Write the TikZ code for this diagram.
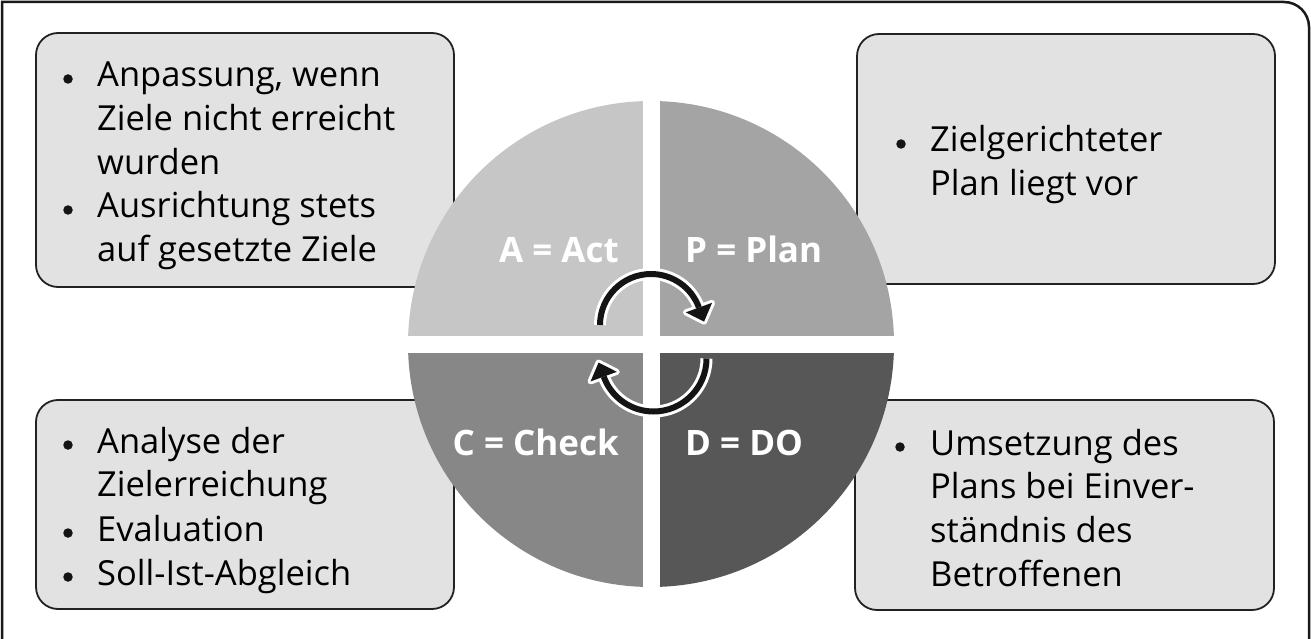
\documentclass[tikz,border=0pt]{standalone}
\usepackage{fontspec}
\setmainfont{Open Sans}
\definecolor{boxfill}{HTML}{E2E2E2}
\definecolor{boxline}{HTML}{222222}
\definecolor{qA}{HTML}{C6C6C6}
\definecolor{qP}{HTML}{A4A4A5}
\definecolor{qC}{HTML}{878787}
\definecolor{qD}{HTML}{575757}
\tikzset{
  infobox/.style={draw=boxline, fill=boxfill, line width=1.8pt, rounded corners=22pt},
  itemtext/.style={anchor=base west, inner sep=0pt, font=\fontsize{34.5}{43.7}\selectfont, text=black},
  bulletmark/.style={circle, fill=black!92, inner sep=0pt, minimum size=9.5pt},
  phaselabel/.style={inner sep=0pt, text=white, font=\fontsize{35}{40}\selectfont\bfseries},
  arcwhite/.style={draw=white, line width=12pt},
  arcblack/.style={draw=black!92, line width=6pt},
}
\newcommand{\lines}[1]{\begin{tabular}[t]{@{}l@{}}#1\end{tabular}}
\begin{document}
\begin{tikzpicture}[x=1pt,y=1pt]
\useasboundingbox (0,0) rectangle (1311,-639);
\begin{scope}
\clip (0,0) rectangle (1311,-639);
% outer frame
\draw[line width=2.5pt, black!90] (2,-700) -- (2,-2) -- (1284,-2) arc[start angle=90, end angle=0, radius=25] -- (1309,-700);
% boxes
\draw[infobox] (36,-33) rectangle (454,-287);
\draw[infobox] (857,-34) rectangle (1275,-284);
\draw[infobox] (36,-400) rectangle (454,-609);
\draw[infobox] (855,-400) rectangle (1274,-610);
% circle quadrants
\coordinate (cc) at (651,-344);
\fill[qA] (cc) -- ++(180:243) arc[start angle=180, end angle=90, radius=243] -- cycle;
\fill[qP] (cc) -- ++(90:243) arc[start angle=90, end angle=0, radius=243] -- cycle;
\fill[qD] (cc) -- ++(0:243) arc[start angle=0, end angle=-90, radius=243] -- cycle;
\fill[qC] (cc) -- ++(-90:243) arc[start angle=-90, end angle=-180, radius=243] -- cycle;
\fill[white] (642.5,-95) rectangle (659.5,-595);
\fill[white] (400,-335.5) rectangle (902,-352.5);
\end{scope}
% texts top-left
\node[bulletmark] (b1) at (68,-79) {};
\node[itemtext] (t1) at (97,-87) {\lines{Anpassung, wenn\\Ziele nicht erreicht\\wurden}};
\node[bulletmark] (b2) at (68,-210) {};
\node[itemtext] (t2) at (97,-218) {\lines{Ausrichtung stets\\auf gesetzte Ziele}};
% top-right
\node[bulletmark] (b3) at (901,-144) {};
\node[itemtext] (t3) at (930,-152) {\lines{Zielgerichteter\\Plan liegt vor}};
% bottom-left
\node[bulletmark] (b4) at (68,-445) {};
\node[itemtext] (t4) at (97,-453) {\lines{Analyse der\\Zielerreichung}};
\node[bulletmark] (b5) at (68,-533) {};
\node[itemtext] (t5) at (97,-541) {Evaluation};
\node[bulletmark] (b6) at (68,-577) {};
\node[itemtext] (t6) at (97,-585) {Soll-Ist-Abgleich};
% bottom-right
\node[bulletmark] (b7) at (900,-447) {};
\node[itemtext] (t7) at (930,-455) {\lines{Umsetzung des\\Plans bei Einver-\\ständnis des\\Betroffenen}};
% phase labels
\node[phaselabel, anchor=base east] (la) at (619,-262) {A = Act};
\node[phaselabel, anchor=base west] (lp) at (685,-262) {P = Plan};
\node[phaselabel, anchor=base east] (lc) at (619,-455) {C = Check};
\node[phaselabel, anchor=base west] (ld) at (685,-455) {D = DO};
% cycle arrows
\begin{scope}[shift={(651,-325)}]
  \draw[arcwhite] (180:51) arc[start angle=180, end angle=20, radius=51];
  \begin{scope}[rotate=20]
    \filldraw[white, line width=6pt, line join=round] (37,0) -- (65,0) -- (51,-15) -- cycle;
  \end{scope}
  \draw[arcblack] (180:51) arc[start angle=180, end angle=20, radius=51];
  \begin{scope}[rotate=20]
    \fill[black!92] (37,0) -- (65,0) -- (51,-15) -- cycle;
  \end{scope}
\end{scope}
\begin{scope}[shift={(653.5,-358.5)}]
  \draw[arcwhite] (0:53) arc[start angle=0, end angle=-160, radius=53];
  \begin{scope}[rotate=-160]
    \filldraw[white, line width=6pt, line join=round] (39,0) -- (67,0) -- (53,-15) -- cycle;
  \end{scope}
  \draw[arcblack] (0:53) arc[start angle=0, end angle=-160, radius=53];
  \begin{scope}[rotate=-160]
    \fill[black!92] (39,0) -- (67,0) -- (53,-15) -- cycle;
  \end{scope}
\end{scope}
\end{tikzpicture}
\end{document}
